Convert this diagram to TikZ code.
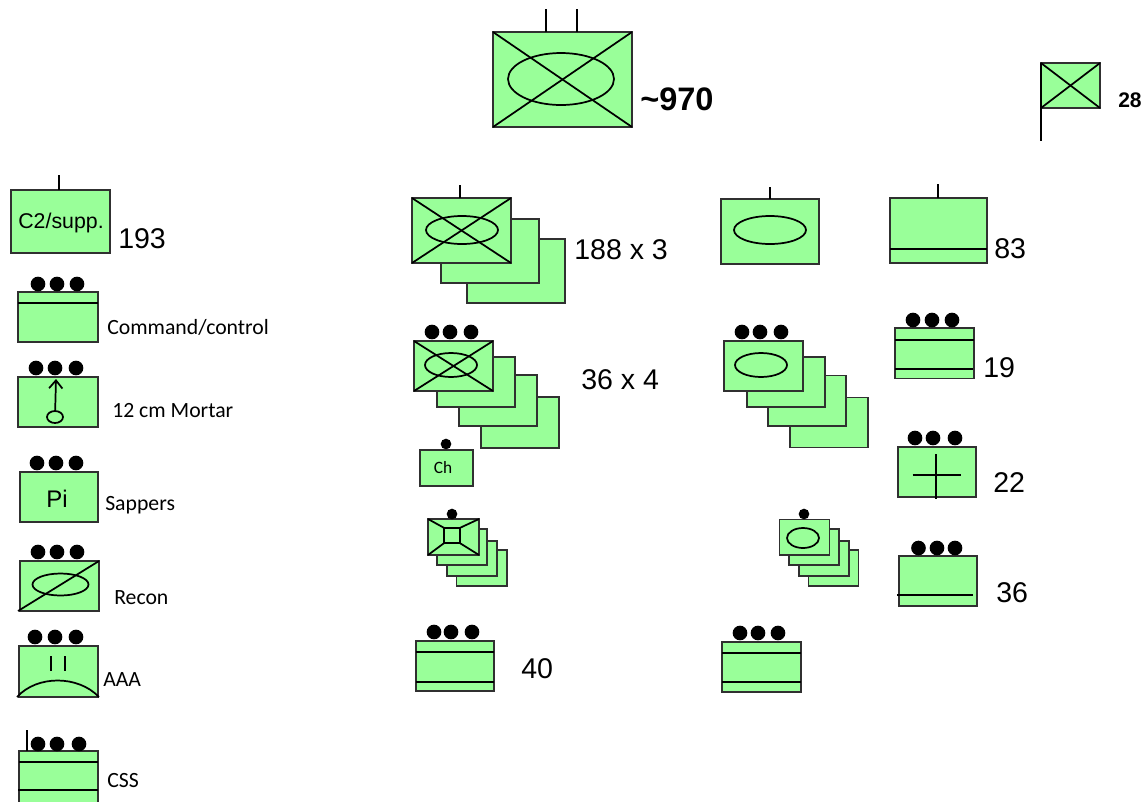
\documentclass[tikz,border=0pt]{standalone}
\usepackage{fontspec}
\usetikzlibrary{shapes.geometric,arrows.meta}
\setmainfont{Liberation Sans}
\newfontfamily\calibrifont{Carlito}
\definecolor{unitgreen}{HTML}{99FF99}
\definecolor{edgegrey}{HTML}{303030}
\tikzset{
  unitbox/.style={draw=edgegrey,fill=unitgreen,line width=0.9pt,inner sep=0pt,outer sep=0pt},
  blob/.style={circle,fill=black,inner sep=0pt,outer sep=0pt,minimum size=11pt},
  smallblob/.style={circle,fill=black,inner sep=0pt,outer sep=0pt,minimum size=8pt},
  mark line/.style={draw=black,line width=1.3pt},
  oval/.style={draw=black,line width=1.3pt},
  num/.style={inner sep=0pt,anchor=west,font=\fontsize{21.4}{21.4}\selectfont},
  lab/.style={inner sep=0pt,anchor=west,font=\calibrifont\fontsize{16.3}{16.3}\selectfont}
}
% \bx{name}{x0}{y0}{x1}{y1}
\newcommand{\bx}[5]{%
  \pgfmathsetlengthmacro{\bxw}{(#4-#2)*0.75pt}%
  \pgfmathsetlengthmacro{\bxh}{(#5-#3)*0.75pt}%
  \node[unitbox,minimum width=\bxw,minimum height=\bxh] (#1) at ({(#2+#4)/2},{(#3+#5)/2}) {};%
}
% \three{name}{x1}{x2}{x3}{y}
\newcommand{\three}[5]{%
  \node[blob] (#1a) at (#2,#5) {};
  \node[blob] (#1b) at (#3,#5) {};
  \node[blob] (#1c) at (#4,#5) {};
}
\newcommand{\xmark}[1]{%
  \draw[mark line] (#1.north west) -- (#1.south east);
  \draw[mark line] (#1.south west) -- (#1.north east);
}
\begin{document}
\begin{tikzpicture}[x=0.75pt,y=-0.75pt]
\useasboundingbox (0,0) rectangle (1146,801);
\clip (0,0) rectangle (1146,801);
\fill[white] (0,0) rectangle (1146,801);

% top formation
\bx{top}{493}{32}{632}{127}
\xmark{top}
\draw[oval] (561,79) ellipse [x radius=53,y radius=26];
\draw[mark line] (546,32) -- (546,9);
\draw[mark line] (577,32) -- (577,9);
\node[num,font=\bfseries\fontsize{24.4}{24.4}\selectfont] (toplab) at (640,99) {\textasciitilde970};

% flag
\bx{flag}{1041}{63}{1100}{108}
\xmark{flag}
\draw[mark line] (flag.north west) -- (1041,141);
\node[num,font=\bfseries\fontsize{15.8}{15.8}\selectfont] (flaglab) at (1118,100) {28};

% left column
\bx{cs}{11}{190}{110}{253}
\node[inner sep=0pt,font=\fontsize{16}{16}\selectfont] (cstext) at (61,222.5) {C2/supp.};
\draw[mark line] (59,190) -- (59,175);
\node[num] (cslab) at (118,238.5) {193};

\bx{cc}{18}{292}{98}{342}
\draw[mark line] (18,303) -- (98,303);
\three{ccd}{38}{57}{77}{284}
\node[lab] (cclab) at (107,327) {Command/control};

\bx{mo}{18}{377}{98}{427}
\three{mod}{36}{55}{76}{368}
\node[oval,ellipse,minimum width=12pt,minimum height=9pt,inner sep=0pt] (moo) at (55,417) {};
\draw[mark line,-{Straight Barb[length=6pt,width=10pt]}] (moo) -- (56,379);
\node[lab] (molab) at (112,410.5) {12 cm Mortar};

\bx{pi}{20}{472}{98}{522}
\three{pid}{37}{56}{76}{463}
\node[inner sep=0pt,font=\fontsize{18}{18}\selectfont] (pitext) at (57,498.5) {Pi};
\node[lab] (pilab) at (105,505) {Sappers};

\bx{re}{20}{561}{99}{611}
\three{red}{38}{57}{77}{552}
\draw[oval] (60.5,584.5) ellipse [x radius=28,y radius=11];
\draw[mark line] (18,611) -- (re.north east);
\node[lab] (relab) at (114,597.5) {Recon};

\bx{aa}{19}{646}{98}{697}
\three{aad}{35}{55}{76}{637}
\draw[mark line] (51,656) -- (51,671);
\draw[mark line] (65,656) -- (65,671);
\draw[mark line] (17,697) .. controls (37,675) and (78,675) .. (99,697);
\node[lab] (aalab) at (103,680) {AAA};

\bx{ss}{19}{751}{98}{812}
\three{ssd}{38}{57}{79}{744}
\draw[mark line] (19,762) -- (98,762);
\draw[mark line] (18,790) -- (98,790);
\draw[mark line] (27,751) -- (27,730);
\node[lab] (sslab) at (107,781) {CSS};

% middle column
\bx{ma3}{467}{239}{565}{303}
\bx{ma2}{441}{219}{539}{283}
\bx{ma1}{412}{198}{511}{263}
\xmark{ma1}
\draw[oval] (462,230) ellipse [x radius=36,y radius=14];
\draw[mark line] (460,198) -- (460,185);
\node[num] (malab) at (574,249.5) {188 x 3};

\bx{mb4}{481}{397}{559}{448}
\bx{mb3}{459}{375}{537}{426}
\bx{mb2}{437}{357}{515}{407}
\bx{mb1}{414}{341}{493}{391}
\xmark{mb1}
\draw[oval] (451,365) ellipse [x radius=26,y radius=12];
\three{mbd}{432}{450}{471}{332}
\node[num] (mblab) at (581,379.5) {36 x 4};

\bx{ch}{420}{450}{473}{486}
\node[smallblob] (chd) at (446,444) {};
\node[inner sep=0pt,font=\calibrifont\fontsize{13}{13}\selectfont] (chtext) at (443,468) {Ch};

\bx{mc4}{456.5}{550}{507}{586}
\bx{mc3}{447}{541}{497}{576}
\bx{mc2}{437}{529}{487}{565}
\bx{mc1}{428}{519}{479}{555}
\node[smallblob] (mcd) at (452,514) {};
\node[draw=black,line width=1.3pt,minimum width=12pt,minimum height=11.5pt,inner sep=0pt,outer sep=0pt] (mcs) at (452,535.5) {};
\draw[mark line] (mc1.north west) -- (mcs.north west);
\draw[mark line] (mc1.north east) -- (mcs.north east);
\draw[mark line] (mc1.south west) -- (mcs.south west);
\draw[mark line] (mc1.south east) -- (mcs.south east);

\bx{md}{416}{641}{494}{691}
\draw[mark line] (416,652) -- (494,652);
\draw[mark line] (416,682) -- (494,682);
\three{mdd}{434}{451}{472}{632}
\node[num] (mdlab) at (521,668.5) {40};

% right columns
\bx{ra}{721}{199}{819}{264}
\draw[oval] (770,230) ellipse [x radius=36,y radius=14];
\draw[mark line] (770,199) -- (770,187);

\bx{rb}{890}{198}{987}{263}
\draw[mark line] (890,249) -- (987,249);
\draw[mark line] (938,198) -- (938,184);
\node[num] (rblab) at (994,248.5) {83};

\bx{rc4}{790}{397.5}{868}{447.5}
\bx{rc3}{768}{375.5}{846}{426}
\bx{rc2}{747}{357}{825}{407}
\bx{rc1}{724}{341}{803}{391}
\draw[oval] (761,365) ellipse [x radius=26,y radius=12];
\three{rcd}{742}{760}{781}{332}

\bx{rd}{895}{328}{974}{378.5}
\draw[mark line] (895,340) -- (974,340);
\draw[mark line] (895,369) -- (973,369);
\three{rdd}{913}{932}{952}{320}
\node[num] (rdlab) at (983,367.5) {19};

\bx{re2}{898}{447}{976}{497}
\three{red2}{915}{933}{955}{438}
\draw[mark line] (936,454) -- (936,499);
\draw[mark line] (912.5,475) -- (961,475);
\node[num] (re2lab) at (993,482.5) {22};

\bx{rf4}{808.5}{550}{858.5}{586}
\bx{rf3}{799}{541}{849}{576}
\bx{rf2}{789}{529}{839}{565}
\bx{rf1}{779.5}{519.5}{829.5}{555}
\node[smallblob] (rfd) at (804,514) {};
\draw[oval] (803,538) ellipse [x radius=16,y radius=10];

\bx{rg}{899}{556}{977}{606}
\draw[mark line] (897,595) -- (973,595);
\three{rgd}{918.5}{937}{955}{548}
\node[num] (rglab) at (996,592.5) {36};

\bx{rh}{722}{642}{801}{692}
\draw[mark line] (722,653) -- (801,653);
\draw[mark line] (722,682) -- (801,682);
\three{rhd}{740}{758}{778}{633}
\end{tikzpicture}
\end{document}
